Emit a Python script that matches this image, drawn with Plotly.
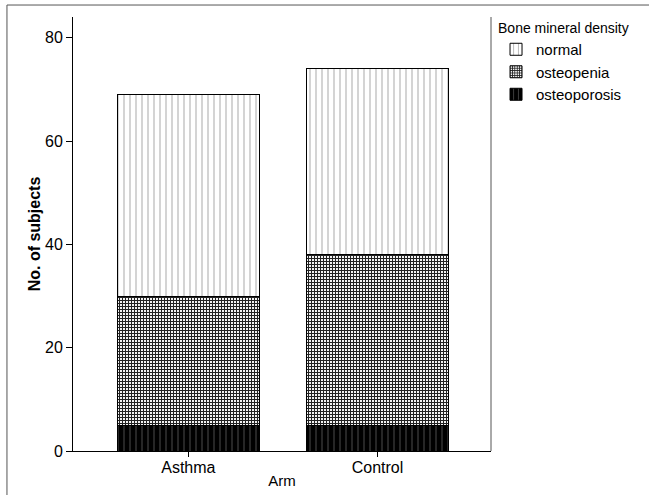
import plotly.graph_objects as go

arms = ["Asthma", "Control"]
osteoporosis = [5, 5]
osteopenia = [25, 33]
normal = [39, 36]
y_ticks = [0, 20, 40, 60, 80]

FONT = "Liberation Sans, Arial, sans-serif"

fig = go.Figure()
fig.add_trace(go.Bar(
    x=arms, y=osteoporosis, name="osteoporosis",
    marker=dict(color="#000000", line=dict(color="#000000", width=1),
                pattern=dict(shape="|", fgcolor="#555555", bgcolor="#000000",
                             size=6, solidity=0.15, fillmode="replace")),
    width=0.75,
))
fig.add_trace(go.Bar(
    x=arms, y=osteopenia, name="osteopenia",
    marker=dict(color="#ffffff", line=dict(color="#000000", width=1),
                pattern=dict(shape="+", fgcolor="#222222", bgcolor="#ffffff",
                             size=3, solidity=0.6, fillmode="replace")),
    width=0.75,
))
fig.add_trace(go.Bar(
    x=arms, y=normal, name="normal",
    marker=dict(color="#ffffff", line=dict(color="#000000", width=1),
                pattern=dict(shape="|", fgcolor="#b0b0b0", bgcolor="#ffffff",
                             size=6, solidity=0.18, fillmode="replace")),
    width=0.75,
))

fig.update_layout(
    barmode="stack",
    width=649, height=495,
    margin=dict(l=73, r=158, t=17, b=44, autoexpand=False),
    paper_bgcolor="white", plot_bgcolor="white",
    font=dict(family=FONT, size=16, color="#000000"),
    legend=dict(
        x=1.012, y=1.005, xanchor="left", yanchor="top",
        title=dict(text="Bone mineral density", font=dict(size=14, family=FONT)),
        font=dict(size=15, family=FONT),
        traceorder="reversed",
        itemwidth=30,
        tracegroupgap=0,
        bgcolor="rgba(0,0,0,0)",
    ),
    xaxis=dict(
        type="category", range=[-0.61, 1.60],
        showline=True, linecolor="#000000", linewidth=1,
        ticks="outside", ticklen=5, tickcolor="#000000",
        ticklabelstandoff=-3,
        showgrid=False, zeroline=False,
        tickfont=dict(size=16, family=FONT),
        title=dict(text="Arm", font=dict(size=15, family=FONT), standoff=0),
    ),
    yaxis=dict(
        range=[0, 84], tickvals=y_ticks,
        showline=True, linecolor="#000000", linewidth=1,
        ticks="outside", ticklen=6, tickcolor="#000000",
        showgrid=False, zeroline=False,
        tickfont=dict(size=16, family=FONT),
        title=dict(text="<b>No. of subjects</b>", font=dict(size=16, family=FONT), standoff=0),
    ),
    shapes=[
        dict(type="line", xref="paper", yref="paper", x0=1, x1=1, y0=0, y1=1,
             line=dict(color="#555555", width=1)),
        dict(type="line", xref="paper", yref="paper", x0=-0.158, x1=1.38, y0=1.0276, y1=1.0276,
             line=dict(color="#555555", width=1)),
        dict(type="line", xref="paper", yref="paper", x0=-0.158, x1=-0.158, y0=1.0276, y1=-0.11,
             line=dict(color="#555555", width=1)),
    ],
)

fig.write_html("out.html", config={"displayModeBar": False},
               post_script="document.body.style.margin='0';")
